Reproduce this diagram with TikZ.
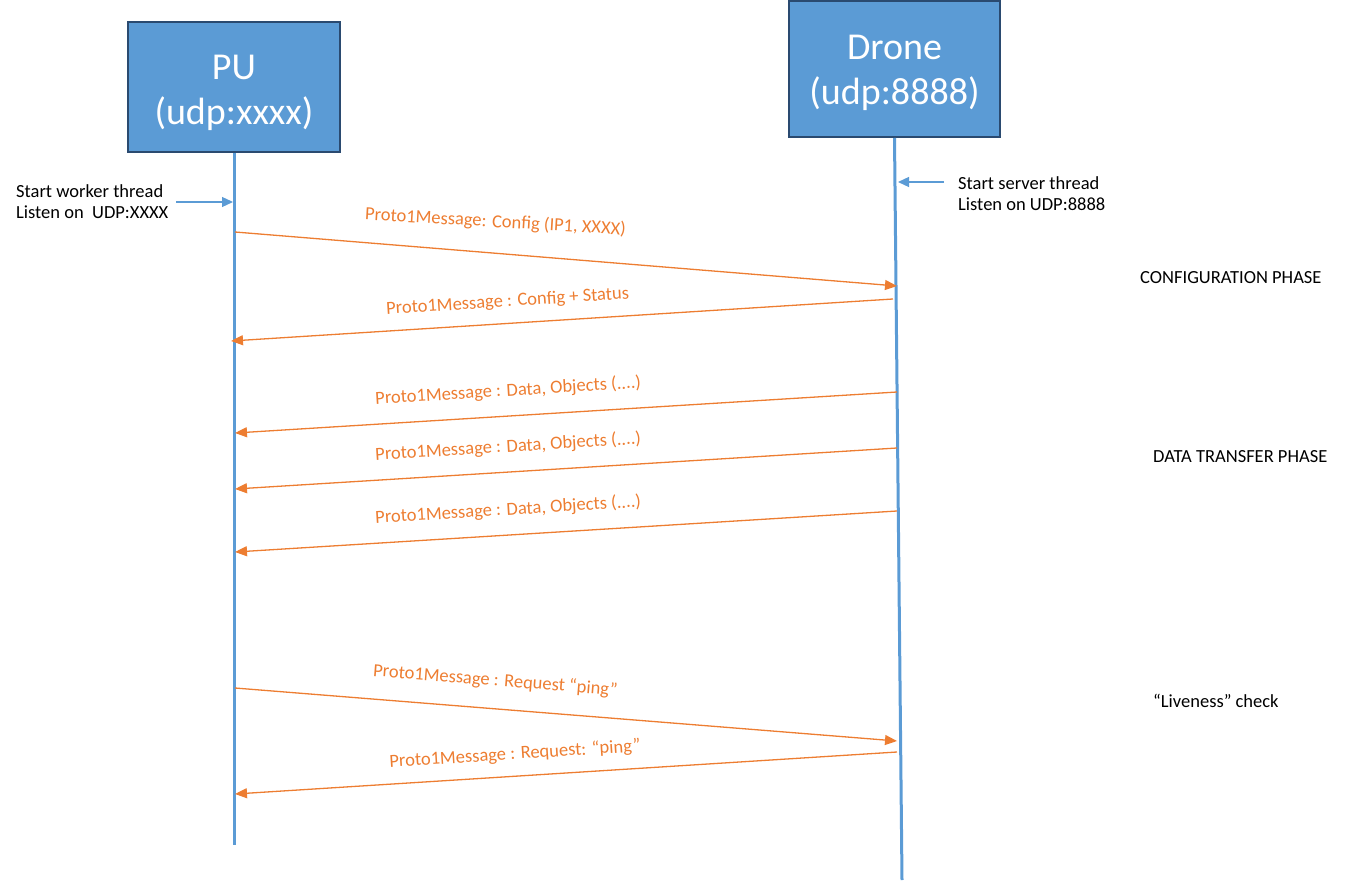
\documentclass[tikz,border=0pt]{standalone}
\usepackage{fontspec}
\setmainfont{Carlito}
\usetikzlibrary{arrows.meta}
\definecolor{lifeblue}{HTML}{5B9BD5}
\definecolor{boxedge}{HTML}{2A4A70}
\definecolor{msgorange}{HTML}{ED7D31}
\begin{document}
\begin{tikzpicture}[x=1pt,y=-1pt]
  \tikzstyle{party}=[draw=boxedge,line width=2pt,fill=lifeblue,inner sep=0pt]
  \tikzstyle{partytext}=[text=white,align=center,font=\fontsize{38}{45}\selectfont,inner sep=0pt]
  \tikzstyle{life}=[draw=lifeblue,line width=3pt]
  \tikzstyle{note}=[font=\fontsize{18.5}{21.5}\selectfont,align=left,inner sep=0pt]
  \tikzstyle{hint}=[draw=lifeblue,line width=1.3pt,-{Triangle[length=11pt,width=10pt]}]
  \tikzstyle{msg}=[draw=msgorange,line width=1.3pt,-{Triangle[length=12pt,width=10pt]}]
  \tikzstyle{lbl}=[text=msgorange,font=\fontsize{18.5}{22}\selectfont,sloped,inner sep=0pt]
  \useasboundingbox (0,0) rectangle (1370,882);
  \node [party,minimum width=212pt,minimum height=130pt] (pu) at (234,87) {};
  \node [partytext] (putext) at ([yshift=-6pt]pu.center) {PU\\(udp:xxxx)};
  \node [party,minimum width=211pt,minimum height=136pt] (drone) at (894.5,69) {};
  \node [partytext] (dronetext) at ([yshift=-4pt]drone.center) {Drone\\(udp:8888)};
  \coordinate (puend) at (234,845);
  \coordinate (droneend) at (902,880);
  \draw [life] (pu.south) -- (puend);
  \draw [life] (drone.south) -- (droneend);
  \node [note,anchor=north west] (punote) at (16,184) {Start worker thread\\Listen on~~UDP:XXXX};
  \node [note,anchor=north west] (dronenote) at (958,176) {Start server thread\\Listen on UDP:8888};
  \coordinate (puin) at (233,202);
  \coordinate (dronein) at (898,182);
  \draw [hint] (176,202) -- (puin);
  \draw [hint] (944,182) -- (dronein);
  \coordinate (p1) at (235,232);  \coordinate (d1) at (897,286);
  \coordinate (d2) at (893,299);  \coordinate (p2) at (231,341);
  \coordinate (d3) at (897,392);  \coordinate (p3) at (235,433);
  \coordinate (d4) at (897,448);  \coordinate (p4) at (235,489);
  \coordinate (d5) at (897,511);  \coordinate (p5) at (235,552);
  \coordinate (p6) at (235,688);  \coordinate (d6) at (897,741);
  \coordinate (d7) at (897,752);  \coordinate (p7) at (235,794);
  \draw [msg] (p1) -- node [lbl,pos=0.39,above=22pt,rotate=1.3] {Proto1Message: Config (IP1, XXXX)} (d1);
  \draw [msg] (d2) -- node [lbl,pos=0.58,above=13pt] {Proto1Message : Config + Status} (p2);
  \draw [msg] (d3) -- node [lbl,pos=0.585,above=16pt] {Proto1Message : Data, Objects (....)} (p3);
  \draw [msg] (d4) -- node [lbl,pos=0.585,above=16pt] {Proto1Message : Data, Objects (....)} (p4);
  \draw [msg] (d5) -- node [lbl,pos=0.585,above=16pt] {Proto1Message : Data, Objects (....)} (p5);
  \draw [msg] (p6) -- node [lbl,pos=0.39,above=19pt] {Proto1Message : Request “ping”} (d6);
  \draw [msg] (d7) -- node [lbl,pos=0.575,above=13pt] {Proto1Message : Request: “ping”} (p7);
  \node [note,anchor=west] (config) at (1140,278) {CONFIGURATION PHASE};
  \node [note,anchor=west] (transfer) at (1153,457) {DATA TRANSFER PHASE};
  \node [note,anchor=west] (live) at (1153,701) {“Liveness” check};
\end{tikzpicture}
\end{document}
